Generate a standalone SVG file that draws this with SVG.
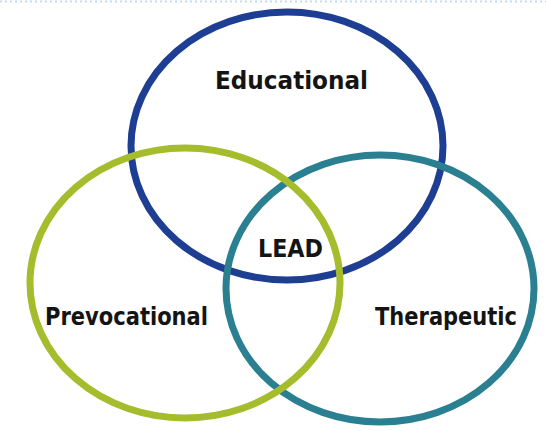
<svg xmlns="http://www.w3.org/2000/svg" width="546" height="431" viewBox="0 0 546 431">
<style>
.ring{fill:none;stroke-width:7}
.lbl{font-family:"DejaVu Sans","Liberation Sans",sans-serif;font-weight:bold;font-size:24.5px;fill:#141414;text-anchor:middle}
</style>
<rect width="546" height="431" fill="#ffffff"/>
<line x1="0" y1="1.5" x2="546" y2="1.5" stroke="#c4dcef" stroke-width="2" stroke-dasharray="2 3"/>
<g id="educational">
<ellipse class="ring" cx="287" cy="146" rx="156" ry="134" stroke="#1d3e92"/>
<text class="lbl" x="291.5" y="89" textLength="153" lengthAdjust="spacingAndGlyphs">Educational</text>
</g>
<g id="therapeutic">
<ellipse class="ring" cx="380" cy="288.5" rx="154" ry="133.5" stroke="#2a7f91"/>
<text class="lbl" x="446" y="325" textLength="142" lengthAdjust="spacingAndGlyphs">Therapeutic</text>
</g>
<g id="prevocational">
<ellipse class="ring" cx="185" cy="283" rx="155" ry="135" stroke="#a5bd2d"/>
<text class="lbl" x="126.5" y="325" textLength="163" lengthAdjust="spacingAndGlyphs">Prevocational</text>
</g>
<g id="lead">
<text class="lbl" x="290.5" y="257" textLength="65" lengthAdjust="spacingAndGlyphs">LEAD</text>
</g>
</svg>
